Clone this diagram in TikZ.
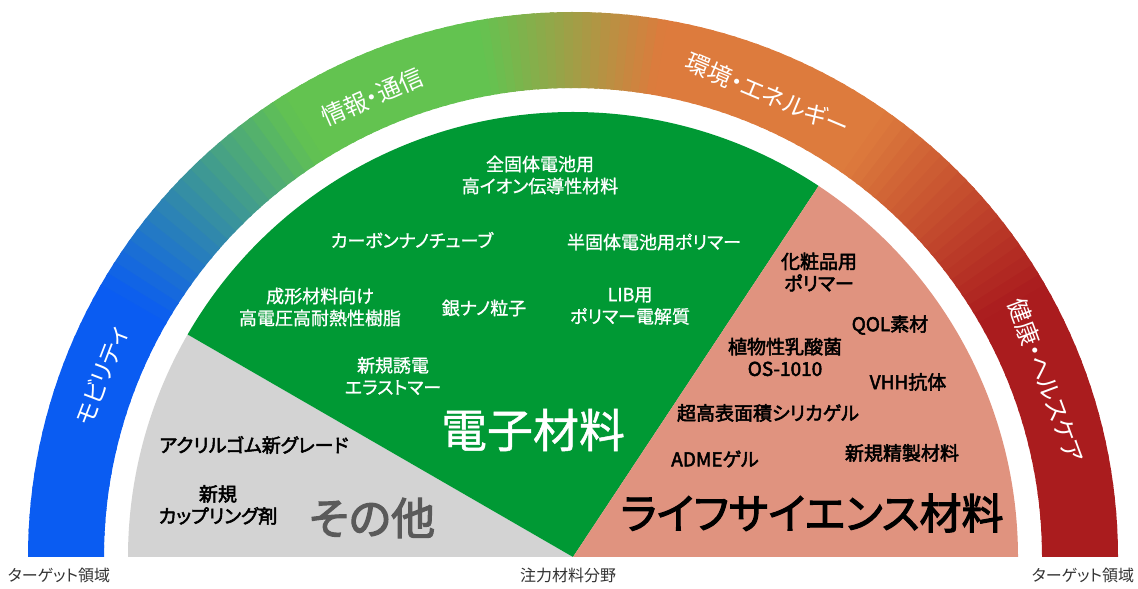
\documentclass[tikz,border=0pt]{standalone}
\usepackage{fontspec}
\setmainfont{Noto Sans CJK JP}[RawFeature={+palt}]
\newfontfamily\medfont{Noto Sans CJK JP}[RawFeature={+palt}, FakeBold=2.6]
\newfontfamily\litefont{Noto Sans CJK JP}[RawFeature={+palt}, FakeBold=1]

\definecolor{bandblue}{HTML}{0A5CF2}
\definecolor{bandgreen}{HTML}{63C350}
\definecolor{bandorange}{HTML}{DD7B3D}
\definecolor{bandred}{HTML}{AA1C1E}
\definecolor{elecgreen}{HTML}{009934}
\definecolor{othergray}{HTML}{D3D3D3}
\definecolor{lifepink}{HTML}{E0937F}
\definecolor{othertext}{HTML}{5A5A5A}
\definecolor{foottext}{HTML}{333333}

\tikzset{
    wlabel/.style={text=white, align=center, font=\fontsize{18}{22}\litefont},
    blabel/.style={text=black, align=center, font=\fontsize{19}{22}\medfont},
    bandlabel/.style={text=white, font=\fontsize{24}{26}\selectfont},
    footlabel/.style={text=foottext, font=\fontsize{16}{18}\selectfont},
}

\begin{document}
\begin{tikzpicture}[x=1pt,y=1pt]
        \useasboundingbox (0,0) rectangle (1138,589);

        \begin{scope}[shift={(573,32)}]
            % target band
            \begin{scope}
                \clip (-600,0) rectangle (600,600);
                \foreach \s/\e/\ca/\cb in {0/30/bandred/bandred, 30/55/bandred/bandorange,
                        55/80/bandorange/bandorange, 80/100/bandorange/bandgreen,
                        100/122/bandgreen/bandgreen, 122/150/bandgreen/bandblue,
                        150/180/bandblue/bandblue}{
                    \foreach \k in {0,...,19}{
                        \pgfmathsetmacro\aa{\s+(\e-\s)*\k/20}
                        \pgfmathsetmacro\bb{\s+(\e-\s)*(\k+1)/20+0.4}
                        \pgfmathtruncatemacro\p{98-5*\k}
                        \fill[\ca!\p!\cb] (\aa:469) arc[start angle=\aa, end angle=\bb, radius=469]
                            -- (\bb:545) arc[start angle=\bb, end angle=\aa, radius=545] -- cycle;
                    }
                }
            \end{scope}

            % focus fan
            \fill[othergray] (0,0) -- (180:445) arc[start angle=180, end angle=150, radius=445] -- cycle;
            \fill[elecgreen] (0,0) -- (150:445) arc[start angle=150, end angle=56.5, radius=445] -- cycle;
            \fill[lifepink] (0,0) -- (56.5:445) arc[start angle=56.5, end angle=0, radius=445] -- cycle;

            \node[bandlabel, rotate=69] (mobility) at (159:505) {モビリティ};
            \node[bandlabel, rotate=23.6] (ict) at (113.6:502) {情報・通信};
            \node[bandlabel, rotate=-22.8] (energy) at (67.2:502) {環境・エネルギー};
            \node[bandlabel, rotate=-69.6] (health) at (20.4:505) {健康・ヘルスケア};
        \end{scope}

        % electronic materials
        \node[wlabel] (solid) at (540,414) {全固体電池用\\高イオン伝導性材料};
        \node[wlabel] (cnt) at (412,349) {カーボンナノチューブ};
        \node[wlabel] (semisolid) at (654,347) {半固体電池用ポリマー};
        \node[wlabel] (resin) at (320,282) {成形材料向け\\高電圧高耐熱性樹脂};
        \node[wlabel] (silver) at (484,281) {銀ナノ粒子};
        \node[wlabel] (lib) at (630,283) {LIB用\\ポリマー電解質};
        \node[wlabel] (elastomer) at (393,213) {新規誘電\\エラストマー};
        \node[text=white, font=\fontsize{46}{50}\litefont] (elec) at (533,159) {電子材料};

        % life science
        \node[blabel] (cosme) at (819,317) {化粧品用\\ポリマー};
        \node[blabel] (qol) at (890,264) {QOL素材};
        \node[blabel] (lactic) at (785,232) {植物性乳酸菌\\OS-1010};
        \node[blabel] (vhh) at (908,207) {VHH抗体};
        \node[blabel] (silica) at (768,176) {超高表面積シリカゲル};
        \node[blabel] (adme) at (715,130) {ADMEゲル};
        \node[blabel] (purify) at (902,136) {新規精製材料};
        \node[text=black, font=\fontsize{42}{46}\medfont] (life) at (812,76) {ライフサイエンス材料};

        % others
        \node[blabel] (acryl) at (254,144) {アクリルゴム新グレード};
        \node[blabel] (coupling) at (218,84) {新規\\カップリング剤};
        \node[text=othertext, font=\fontsize{44}{48}\medfont] (other) at (372,71) {その他};

        \node[footlabel] (targetl) at (59,14) {ターゲット領域};
        \node[footlabel] (focus) at (568,14) {注力材料分野};
        \node[footlabel] (targetr) at (1083,14) {ターゲット領域};

    \end{tikzpicture}
\end{document}
